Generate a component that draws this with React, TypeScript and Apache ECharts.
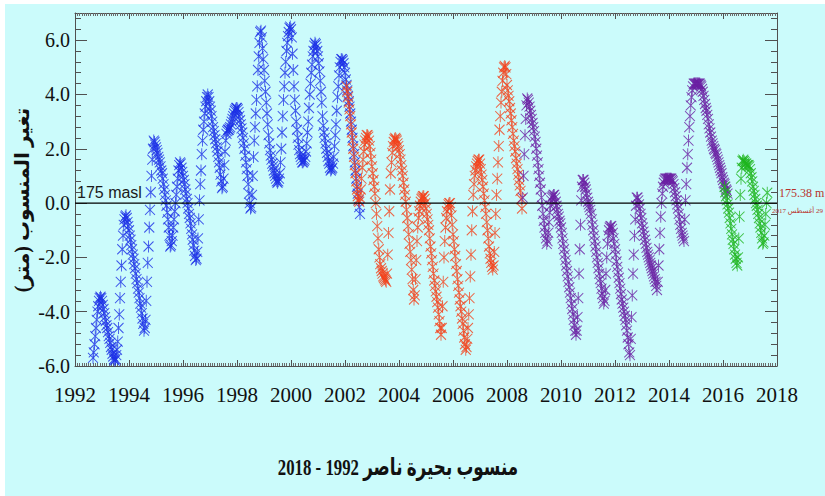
import React, { useEffect, useRef } from "react";
import * as echarts from "echarts";

// Lake Nasser level change (m) relative to 175 masl, sampled every 1/36 year.
// Each series: index of first sample on the global grid (year = 1992 + k/36) and values.
const X_MIN = 1992;
const X_MAX = 2018;
const SAMPLES_PER_YEAR = 36;

const blueStart = 24;
const blueValues = [
  -5.7, -5.5, -5.2, -4.9, -4.6, -4.3, -4.0, -3.8, -3.6, -3.5, -3.45, -3.5,
  -3.6, -3.75, -3.9, -4.05, -4.2, -4.35, -4.5, -4.6, -4.75, -4.9, -5.0, -5.15, -5.3, -5.4, -5.55, -5.65, -5.75, -5.8,
  -5.75, -5.6, -5.4, -5.1, -4.6, -4.1, -3.5, -2.9, -2.3, -1.7, -1.2, -0.8, -0.6, -0.5, -0.45,
  -0.55, -0.7, -0.85, -1.0, -1.2, -1.35, -1.55, -1.7, -1.9, -2.05, -2.25, -2.4, -2.6, -2.8, -2.95, -3.15, -3.3, -3.5, -3.7, -3.85, -4.05, -4.25, -4.45, -4.7,
  -4.6, -4.3, -3.6, -2.9, -2.2, -1.6, -0.9, -0.25, 0.4, 1.0, 1.6, 2.0, 2.3,
  2.25, 2.15, 2.05, 1.95, 1.85, 1.7, 1.6, 1.5, 1.35, 1.2, 1.1, 0.9, 0.7, 0.5, 0.3, 0.1, -0.1, -0.35, -0.6, -0.9, -1.2, -1.6,
  -1.55, -1.4, -1.2, -0.9, -0.6, -0.3, 0.0, 0.3, 0.6, 0.9, 1.2, 1.4, 1.5,
  1.45, 1.3, 1.15, 1.0, 0.85, 0.7, 0.5, 0.35, 0.15, 0.0, -0.2, -0.4, -0.55, -0.75, -0.95, -1.15, -1.35, -1.55, -1.75, -1.95, -2.1,
  -2.05, -1.8, -1.3, -0.6, 0.1, 0.7, 1.2, 1.8, 2.3, 2.7, 3.0, 3.3, 3.55, 3.75, 3.9, 4.0,
  3.9, 3.75, 3.55, 3.4, 3.2, 3.0, 2.8, 2.65, 2.5, 2.35, 2.2, 2.05, 1.9, 1.7, 1.5, 1.3, 1.05, 0.8, 0.55,
  0.6, 0.9, 1.4, 1.9, 2.3, 2.55, 2.65, 2.7, 2.7, 2.75, 2.8, 2.9, 3.0, 3.1, 3.2, 3.3, 3.4, 3.45, 3.5, 3.5,
  3.45, 3.35, 3.2, 3.05, 2.9, 2.75, 2.6, 2.4, 2.2, 2.0, 1.75, 1.5, 1.25, 1.0, 0.7, 0.35, 0.0, -0.2,
  -0.15, 0.3, 1.0, 1.7, 2.3, 2.8, 3.3, 3.8, 4.3, 4.9, 5.4, 5.9, 6.3, 6.35,
  6.1, 5.7, 5.3, 4.9, 4.5, 4.1, 3.7, 3.3, 2.9, 2.5, 2.2, 1.95, 1.75, 1.6, 1.45, 1.35, 1.2, 1.1, 1.0, 0.9, 0.8, 0.75, 0.8,
  0.9, 1.1, 1.5, 2.0, 2.6, 3.2, 3.8, 4.3, 4.8, 5.2, 5.6, 5.9, 6.15, 6.3, 6.45, 6.5,
  6.4, 6.1, 5.5, 4.9, 4.3, 3.8, 3.4, 3.0, 2.7, 2.4, 2.15, 1.95, 1.8, 1.7, 1.6, 1.5, 1.5,
  1.55, 1.6, 1.7, 1.9, 2.2, 2.6, 3.0, 3.5, 4.0, 4.4, 4.8, 5.1, 5.4, 5.6, 5.8, 5.9,
  5.85, 5.75, 5.6, 5.4, 5.15, 4.85, 4.5, 4.1, 3.7, 3.2, 2.85, 2.6, 2.4, 2.2, 2.0, 1.85, 1.7, 1.55, 1.45, 1.3, 1.2,
  1.25, 1.3, 1.45, 1.7, 2.1, 2.5, 2.9, 3.4, 3.9, 4.3, 4.7, 5.0, 5.2, 5.3, 5.3, 5.25,
  5.15, 5.0, 4.8, 4.55, 4.35, 4.15, 3.95, 3.75, 3.55, 3.3, 3.0, 2.7, 2.4, 2.1, 1.8, 1.5, 1.2, 0.9, 0.6, 0.35, 0.1, -0.15, -0.4,
];

const redStart = 362;
const redValues = [
  4.3, 4.1, 3.9, 3.7, 3.45, 3.2, 2.9, 2.6, 2.3, 2.0, 1.7, 1.4, 1.1, 0.8, 0.5, 0.25, 0.1,
  0.05, 0.2, 0.5, 0.9, 1.3, 1.6, 1.9, 2.15, 2.3, 2.4, 2.5, 2.5, 2.45,
  2.3, 2.1, 1.85, 1.6, 1.35, 1.1, 0.85, 0.6, 0.35, 0.0, -0.4, -0.85, -1.3, -1.7, -2.0, -2.25, -2.4, -2.5, -2.6, -2.7, -2.75, -2.8, -2.85, -2.9,
  -2.6, -1.9, -1.1, -0.3, 0.5, 1.1, 1.5, 1.85, 2.1, 2.25, 2.35, 2.4,
  2.35, 2.3, 2.2, 2.1, 1.95, 1.8, 1.6, 1.4, 1.2, 1.0, 0.75, 0.5, 0.3, 0.05, -0.25, -0.55, -0.85, -1.15, -1.5, -1.8, -2.1, -2.45, -2.8, -3.2, -3.55,
  -3.4, -2.8, -2.1, -1.4, -0.9, -0.55, -0.3, -0.1, 0.05, 0.15, 0.2, 0.25, 0.25,
  0.15, 0.0, -0.2, -0.4, -0.6, -0.8, -1.0, -1.3, -1.6, -1.85, -2.1, -2.35, -2.6, -2.85, -3.05, -3.25, -3.45, -3.65, -3.85, -4.1, -4.35, -4.6, -4.85,
  -4.6, -3.8, -2.9, -2.0, -1.4, -0.9, -0.55, -0.3, -0.15, -0.05, 0.0, 0.0,
  -0.15, -0.45, -0.8, -1.15, -1.4, -1.7, -1.95, -2.25, -2.5, -2.8, -3.05, -3.3, -3.55, -3.8, -4.0, -4.25, -4.45, -4.7, -4.95, -5.2, -5.4,
  -5.3, -5.0, -4.6, -4.1, -3.5, -2.7, -1.9, -1.0, -0.3, 0.3, 0.7, 1.0, 1.2, 1.35, 1.45, 1.55, 1.6, 1.6,
  1.45, 1.25, 1.05, 0.85, 0.6, 0.35, 0.1, -0.15, -0.4, -0.7, -1.0, -1.3, -1.6, -1.85, -2.05, -2.2, -2.35, -2.45,
  -2.3, -1.8, -1.1, -0.4, 0.3, 0.9, 1.5, 2.1, 2.7, 3.2, 3.7, 4.1, 4.5, 4.8, 5.0, 5.05, 5.0,
  4.75, 4.35, 4.15, 3.95, 3.75, 3.5, 3.3, 3.05, 2.8, 2.55, 2.3, 2.1, 1.9, 1.65, 1.45, 1.25, 1.05, 0.85, 0.65, 0.45, 0.15, -0.2,
];

const purpleStart = 597;
const purpleValues = [
  0.2, 1.0, 1.8, 2.5, 3.1, 3.6, 3.85, 3.8, 3.7, 3.55,
  3.4, 3.25, 3.1, 2.95, 2.8, 2.65, 2.45, 2.25, 2.0, 1.75, 1.5, 1.25, 1.0, 0.75, 0.5, 0.2, -0.1, -0.4, -0.65, -0.9, -1.1, -1.3, -1.5,
  -1.4, -1.1, -0.7, -0.35, -0.1, 0.1, 0.2, 0.25, 0.3, 0.3,
  0.2, 0.05, -0.1, -0.25, -0.4, -0.5, -0.65, -0.75, -0.9, -1.1, -1.3, -1.5, -1.7, -1.9, -2.1, -2.3, -2.5, -2.7, -2.9, -3.1, -3.3, -3.5, -3.7, -3.9, -4.1, -4.3, -4.5, -4.7, -4.85,
  -4.7, -4.2, -3.5, -2.6, -1.7, -0.8, 0.1, 0.6, 0.85, 0.85,
  0.75, 0.6, 0.5, 0.35, 0.2, 0.05, -0.05, -0.15, -0.25, -0.4, -0.6, -0.8, -1.0, -1.2, -1.4, -1.6, -1.8, -2.0, -2.2, -2.4, -2.6, -2.8, -2.95, -3.15, -3.35, -3.5, -3.7,
  -3.6, -3.2, -2.6, -2.0, -1.5, -1.2, -1.0, -0.9, -0.85, -0.85,
  -0.95, -1.1, -1.3, -1.5, -1.7, -1.9, -2.15, -2.35, -2.55, -2.75, -2.95, -3.15, -3.35, -3.55, -3.7, -3.85, -4.0, -4.15, -4.3, -4.5, -4.7, -4.95, -5.2, -5.5, -5.6,
  -5.0, -4.2, -3.4, -2.6, -1.9, -1.2, -0.6, -0.1, 0.2, 0.2,
  0.1, -0.05, -0.2, -0.4, -0.55, -0.75, -0.9, -1.05, -1.2, -1.35, -1.5, -1.65, -1.8, -1.9, -2.0, -2.1, -2.2, -2.3, -2.4, -2.5, -2.6, -2.7, -2.8, -2.9, -3.05, -3.2,
  -2.9, -2.3, -1.7, -1.1, -0.5, 0.0, 0.35, 0.6, 0.75, 0.85, 0.9, 0.9, 0.9, 0.9, 0.9, 0.9, 0.9, 0.9, 0.9, 0.85, 0.8, 0.7,
  0.55, 0.4, 0.25, 0.1, -0.05, -0.2, -0.4, -0.6, -0.8, -0.95, -1.1, -1.2, -1.3, -1.4,
  -0.6, 0.1, 0.7, 1.3, 1.8, 2.3, 2.8, 3.2, 3.6, 3.9, 4.15, 4.3, 4.4, 4.4, 4.4, 4.4, 4.4, 4.4, 4.4, 4.4, 4.4, 4.35, 4.3,
  4.2, 4.1, 3.95, 3.8, 3.65, 3.5, 3.4, 3.25, 3.1, 2.9, 2.75, 2.6, 2.45, 2.3, 2.2, 2.1, 2.0, 1.95, 1.85, 1.8, 1.7, 1.6, 1.5, 1.4, 1.3, 1.2, 1.1, 0.95, 0.85, 0.75, 0.7, 0.6, 0.5, 0.45, 0.35,
];

const greenStart = 866;
const greenValues = [
  0.6, 0.4, 0.25, 0.1, -0.05, -0.2, -0.35, -0.55, -0.75, -0.95, -1.15, -1.35, -1.5, -1.7, -1.9, -2.05, -2.2, -2.3,
  -2.0, -1.3, -0.5, 0.3, 0.9, 1.3, 1.55, 1.6, 1.55, 1.5, 1.45, 1.45, 1.4, 1.4, 1.4, 1.35, 1.25,
  1.1, 0.95, 0.8, 0.6, 0.45, 0.3, 0.15, 0.0, -0.1, -0.25, -0.4, -0.55, -0.75, -0.9, -1.1, -1.3, -1.5,
  -1.45, -1.2, -0.8, -0.4, 0.0, 0.38,
];

const referenceLine = [
  [1992, 0],
  [2018, 0],
];

const Y_MIN = -6;
const Y_MAX = 7;

const ASTERISK = "path://M0 1L10 11M10 1L0 11M5 0L5 12";

function toPoints(start: number, values: number[]) {
  return values.map((v, i) => [X_MIN + (start + i) / SAMPLES_PER_YEAR, v]);
}

function starSeries(name: string, color: string, start: number, values: number[]) {
  return {
    name,
    type: "scatter",
    data: toPoints(start, values),
    symbol: ASTERISK,
    symbolSize: [10, 12],
    itemStyle: { color: "rgba(0,0,0,0)", borderColor: color, borderWidth: 1 },
    silent: true,
  };
}

const BG = "#cbfbfb";
const SERIF = "Liberation Serif, Times New Roman, DejaVu Serif, serif";
const ARABIC = "Liberation Serif, Times New Roman, DejaVu Sans, serif";

export default function App() {
  const ref = useRef<HTMLDivElement>(null);
  useEffect(() => {
    if (!ref.current) return;
    const chart = echarts.init(ref.current, undefined, { renderer: "svg" });
    const axisColor = "#505050";
    const xCommon = {
      type: "value",
      min: X_MIN,
      max: X_MAX,
      interval: 2,
      splitLine: { show: false },
      axisLine: { show: true, onZero: false, lineStyle: { color: axisColor, width: 1 } },
      axisTick: { show: true, inside: true, length: 6, lineStyle: { color: axisColor } },
      minorTick: { show: true, splitNumber: 24, length: 3, lineStyle: { color: "#6a6a6a" } },
    };
    const yCommon = {
      type: "value",
      min: Y_MIN,
      max: Y_MAX,
      interval: 2,
      splitLine: { show: false },
      axisLine: { show: true, onZero: false, lineStyle: { color: axisColor, width: 1 } },
      axisTick: { show: true, inside: true, length: 12, lineStyle: { color: axisColor } },
      minorTick: { show: true, splitNumber: 5, length: 6, lineStyle: { color: axisColor } },
    };
    chart.setOption({
      animation: false,
      backgroundColor: BG,
      textStyle: { fontFamily: SERIF },
      grid: { left: 75, right: 48, top: 13, bottom: 130, containLabel: false },
      xAxis: [
        {
          ...xCommon,
          position: "bottom",
          axisLabel: {
            fontFamily: SERIF,
            fontSize: 21,
            color: "#111",
            margin: 18,
            formatter: (v: number) => String(v),
          },
        },
        { ...xCommon, position: "top", axisLabel: { show: false } },
      ],
      yAxis: [
        {
          ...yCommon,
          position: "left",
          axisLabel: {
            fontFamily: SERIF,
            fontSize: 20,
            color: "#111",
            margin: 5,
            formatter: (v: number) => (v > 6.5 ? "" : v.toFixed(1)),
          },
        },
        { ...yCommon, position: "right", axisLabel: { show: false } },
      ],
      series: [
        starSeries("1992-2002", "#1c2fe6", blueStart, blueValues),
        starSeries("2002-2008", "#f2421c", redStart, redValues),
        starSeries("2008-2016", "#6a1fa3", purpleStart, purpleValues),
        starSeries("2016-2017", "#1fb51f", greenStart, greenValues),
        {
          type: "line",
          data: referenceLine,
          symbol: "none",
          lineStyle: { color: "#000", width: 1.3 },
          z: 5,
          silent: true,
        },
      ],
      graphic: [
        { type: "rect", shape: { x: 0, y: 0, width: 825, height: 4 }, style: { fill: "#fff" }, silent: true },
        { type: "rect", shape: { x: 0, y: 0, width: 5, height: 496 }, style: { fill: "#fff" }, silent: true },
        {
          type: "text",
          x: 77,
          y: 192,
          style: {
            text: "175 masl",
            fontFamily: "Liberation Sans",
            fontSize: 16,
            fill: "#1a1a1a",
            align: "left",
            verticalAlign: "middle",
            textAlign: "left",
            textVerticalAlign: "middle",
          },
          z: 10,
        },
        {
          type: "text",
          x: 779,
          y: 193,
          style: {
            text: "175.38 m",
            fontFamily: SERIF,
            fontSize: 12,
            fill: "#b8322c",
            align: "left",
            verticalAlign: "middle",
            textAlign: "left",
            textVerticalAlign: "middle",
          },
          z: 10,
        },
        {
          type: "text",
          x: 823,
          y: 211,
          style: {
            text: "\u200F29 أغسطس 2017",
            fontFamily: ARABIC,
            fontSize: 7,
            fill: "#b8322c",
            align: "right",
            verticalAlign: "middle",
            textAlign: "right",
            textVerticalAlign: "middle",
          },
          z: 10,
        },
        {
          type: "text",
          x: 22,
          y: 200,
          rotation: Math.PI / 2,
          style: {
            text: "تغير المنسوب (متر)",
            fontFamily: ARABIC,
            fontSize: 20,
            fontWeight: "bold",
            fill: "#111",
            align: "center",
            verticalAlign: "middle",
            textAlign: "center",
            textVerticalAlign: "middle",
          },
          z: 10,
        },
        {
          type: "text",
          x: 398,
          y: 467,
          scaleX: 0.7,
          style: {
            text: "منسوب بحيرة ناصر 1992 - 2018",
            fontFamily: ARABIC,
            fontSize: 24,
            fontWeight: "bold",
            fill: "#111",
            align: "center",
            verticalAlign: "middle",
            textAlign: "center",
            textVerticalAlign: "middle",
          },
          z: 10,
        },
      ],
    });
    return () => chart.dispose();
  }, []);
  return (
    <div
      ref={ref}
      style={{ position: "absolute", left: 0, top: 0, width: 825, height: 496 }}
    />
  );
}
